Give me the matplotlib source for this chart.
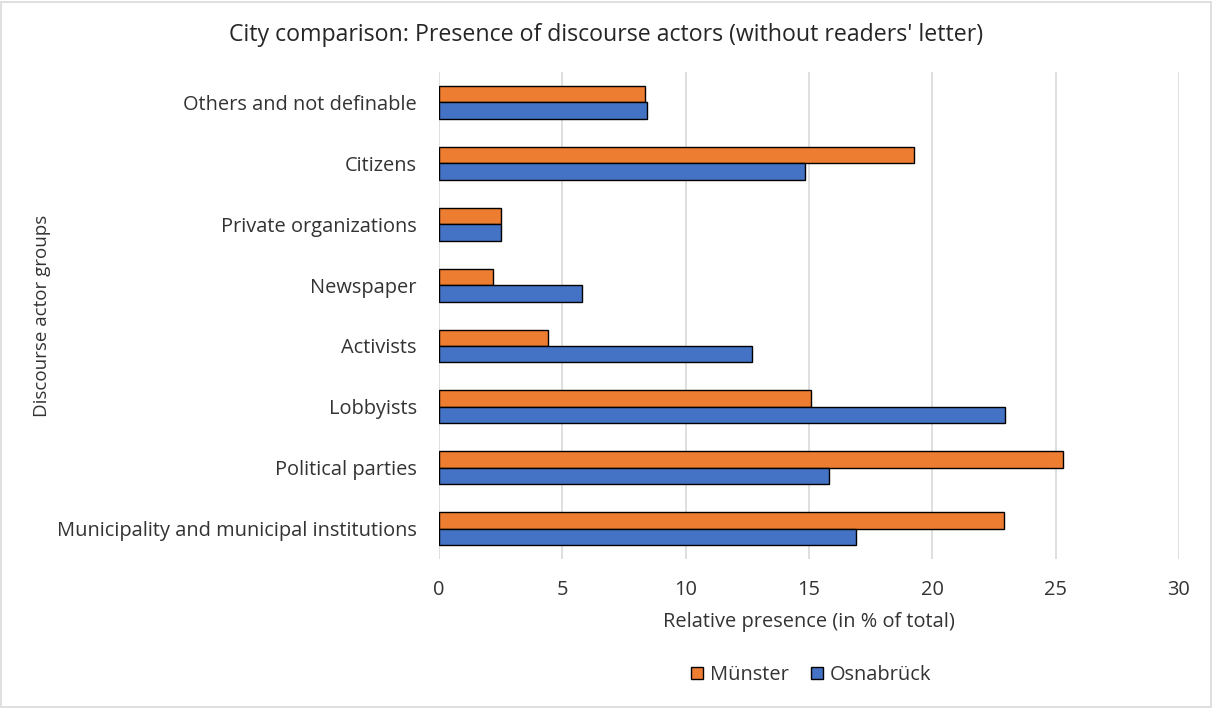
import numpy as np
import matplotlib.pyplot as plt
from matplotlib.patches import Rectangle

plt.rcParams['font.family'] = ['Open Sans', 'DejaVu Sans']

# actor groups, bottom to top
groups = ['Municipality and municipal institutions', 'Political parties', 'Lobbyists',
          'Activists', 'Newspaper', 'Private organizations', 'Citizens',
          'Others and not definable']
muenster = [22.9, 25.3, 15.1, 4.4, 2.2, 2.5, 19.25, 8.35]
osnabrueck = [16.9, 15.8, 22.95, 12.7, 5.8, 2.5, 14.85, 8.45]
xticks = [0, 5, 10, 15, 20, 25, 30]

orange = '#ED7D31'
blue = '#4472C4'
text_col = '#333333'
fs = 14.4

fig = plt.figure(figsize=(12.12, 7.09), dpi=100)
ax = fig.add_axes([0.3622, 0.2116, 0.6106, 0.6868])

y = np.arange(len(groups))
h = 0.27
ax.barh(y + h / 2, muenster, height=h, color=orange, edgecolor='black', linewidth=1, label='Münster', zorder=3)
ax.barh(y - h / 2, osnabrueck, height=h, color=blue, edgecolor='black', linewidth=1, label='Osnabrück', zorder=3)

ax.set_xlim(0, 30)
ax.set_ylim(-0.5, len(groups) - 0.5)
ax.set_xticks(xticks)
ax.set_yticks(y)
ax.set_yticklabels(groups)
ax.tick_params(length=0, labelsize=fs, labelcolor=text_col)
ax.tick_params(axis='x', pad=15)
ax.tick_params(axis='y', pad=16)
ax.grid(axis='x', color='#D9D9D9', linewidth=1.2, zorder=0)
for s in ax.spines.values():
    s.set_visible(False)

ax.set_xlabel('Relative presence (in % of total)', fontsize=fs, color=text_col, labelpad=9)
ax.set_ylabel('Discourse actor groups', fontsize=13.5, color=text_col)
ax.yaxis.set_label_coords(-0.524, 0.5)

fig.text(0.5, 0.95, "City comparison: Presence of discourse actors (without readers' letter)",
         ha='center', va='center', fontsize=16.7, color='#262626')

ax.legend(loc='center', bbox_to_anchor=(0.6696, 0.048), bbox_transform=fig.transFigure,
          ncol=2, frameon=False, fontsize=fs, labelcolor=text_col,
          handlelength=0.6, handleheight=0.6, handletextpad=0.35, columnspacing=1.1)

# thin border round the whole chart
fig.patches.append(Rectangle((0.001, 0.003), 0.998, 0.994, transform=fig.transFigure,
                             fill=False, edgecolor='#D9D9D9', linewidth=1.2))

plt.savefig('out.png', dpi=100)
